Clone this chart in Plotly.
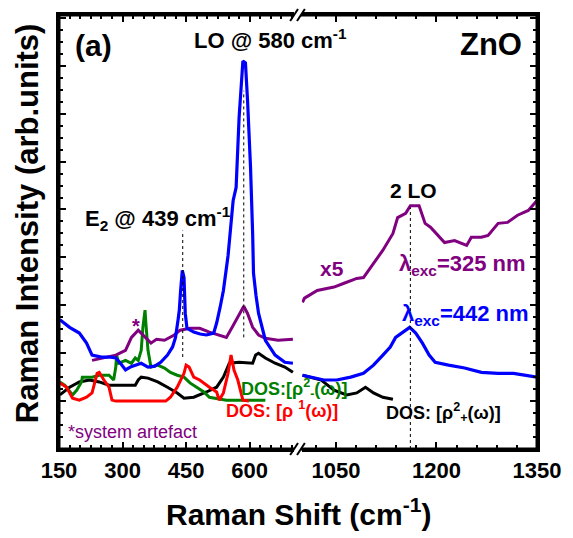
import plotly.graph_objects as go

# ---------------- data (left segment: 150-706 cm-1) ----------------
blue_l_x = [152, 175, 198, 215, 228, 250, 268, 284, 295, 307, 320, 330, 344, 360, 376, 390, 406, 418, 425, 431,
            434, 437, 441, 445, 448, 452, 468, 483, 498, 515, 522, 530, 538, 549, 561, 568, 575, 584, 590, 595,
            602, 607, 609, 615, 621, 637, 660, 683, 702]
blue_l_y = [2.70, 2.54, 2.42, 2.21, 1.96, 1.92, 1.92, 1.90, 1.79, 1.65, 1.72, 1.75, 1.79, 1.71, 1.73, 1.81, 1.96,
            2.13, 2.33, 2.70, 2.90, 3.31, 3.73, 3.58, 2.83, 2.52, 2.44, 2.40, 2.38, 2.42, 2.63, 2.95, 3.31, 4.04,
            5.19, 5.46, 6.92, 8.10, 8.06, 7.27, 5.88, 4.50, 3.67, 3.20, 2.83, 2.27, 1.96, 1.81, 1.79]

purple_l_x = [228, 252, 284, 307, 321, 337, 353, 367, 380, 399, 422, 436, 459, 482, 505, 528, 545, 561, 575,
              586, 595, 607, 621, 637, 667, 702]
purple_l_y = [1.85, 1.90, 1.96, 2.06, 2.33, 2.48, 2.33, 2.21, 2.29, 2.27, 2.38, 2.48, 2.52, 2.52, 2.44, 2.38,
              2.33, 2.58, 2.79, 2.98, 2.83, 2.54, 2.38, 2.31, 2.27, 2.29]

black_l_x = [152, 175, 198, 222, 245, 268, 291, 330, 337, 344, 360, 383, 406, 429, 445, 468, 498, 522, 538,
             552, 575, 607, 614, 621, 637, 660, 683, 702]
black_l_y = [1.13, 1.29, 1.40, 1.44, 1.40, 1.33, 1.33, 1.33, 1.44, 1.50, 1.48, 1.40, 1.29, 1.17, 1.06, 1.08,
             1.19, 1.29, 1.50, 1.79, 1.81, 1.79, 1.96, 2.00, 1.90, 1.79, 1.71, 1.60]

green_x = [152, 164, 182, 192, 203, 205, 228, 245, 268, 279, 284, 286, 291, 307, 321, 330, 337, 344, 348,
           353, 355, 360, 367, 383, 399, 413, 429, 445, 459, 475, 492, 505, 522, 545, 591, 637]
green_y = [1.40, 1.33, 1.13, 1.23, 1.40, 1.50, 1.50, 1.54, 1.54, 1.44, 1.71, 1.96, 1.79, 1.85, 1.79, 1.90,
           1.85, 2.06, 2.54, 2.90, 2.63, 2.06, 1.71, 1.75, 1.69, 1.60, 1.54, 1.50, 1.38, 1.29, 1.19, 1.08,
           1.06, 1.02, 1.02, 1.02]

red_x = [152, 168, 182, 198, 215, 228, 240, 245, 256, 268, 275, 284, 402, 413, 429, 445, 450, 457, 468, 482,
         505, 522, 528, 538, 549, 556, 563, 572, 584, 598]
red_y = [1.38, 1.29, 1.06, 1.02, 1.08, 1.17, 1.58, 1.60, 1.44, 1.29, 1.02, 1.00, 1.00, 1.08, 1.29, 1.58,
         1.75, 1.71, 1.50, 1.44, 1.29, 1.19, 1.02, 1.17, 1.58, 1.96, 1.65, 1.44, 1.02, 1.00]

# ---------------- data (right segment: 999-1350 cm-1) ----------------
blue_r_x = [1000, 1013, 1032, 1051, 1072, 1091, 1106, 1120, 1131, 1139, 1150, 1160, 1169, 1179, 1189, 1198,
            1218, 1242, 1267, 1292, 1315, 1335, 1350]
blue_r_y = [1.54, 1.50, 1.44, 1.44, 1.50, 1.58, 1.75, 1.96, 2.13, 2.33, 2.44, 2.54, 2.42, 2.21, 1.96, 1.81,
            1.75, 1.69, 1.60, 1.58, 1.58, 1.54, 1.50]

purple_r_x = [1000, 1003, 1022, 1047, 1062, 1081, 1091, 1106, 1120, 1135, 1142, 1154, 1161, 1174, 1183, 1191,
              1204, 1212, 1227, 1245, 1252, 1267, 1277, 1292, 1306, 1321, 1337, 1350]
purple_r_y = [3.06, 3.15, 3.31, 3.38, 3.46, 3.56, 3.58, 3.88, 4.15, 4.50, 4.83, 4.92, 5.08, 5.08, 4.71, 4.63,
              4.42, 4.31, 4.35, 4.25, 4.42, 4.42, 4.46, 4.71, 4.73, 4.88, 4.98, 5.19]

black_r_x = [1000, 1013, 1028, 1047, 1066, 1081, 1094, 1106, 1120, 1135]
black_r_y = [1.54, 1.50, 1.44, 1.23, 1.13, 1.17, 1.29, 1.17, 1.08, 1.04]

# reference (dotted) lines: [x, y_start, y_end]
e2_line = [442, 1.92, 4.56]
lo_line = [586, 2.33, 7.48]
lo2_line = [1161, 0.0, 5.04]

left_ticks = [150, 300, 450, 600]
right_ticks = [1050, 1200, 1350]

FONT = "Liberation Sans, Arial, sans-serif"
BLUE, PURPLE, GREEN, RED = "#0000FF", "#800080", "#008000", "#FF0000"

fig = go.Figure()

def add(x, y, color, width, right=False):
    fig.add_trace(go.Scatter(x=x, y=y, mode="lines", line=dict(color=color, width=width),
                             xaxis="x2" if right else "x", yaxis="y2" if right else "y",
                             showlegend=False, hoverinfo="skip"))

add(black_l_x, black_l_y, "black", 3)
add(green_x, green_y, GREEN, 3)
add(red_x, red_y, RED, 3)
add(purple_l_x, purple_l_y, PURPLE, 3)
add(blue_l_x, blue_l_y, BLUE, 3.2)
add(black_r_x, black_r_y, "black", 3, True)
add(purple_r_x, purple_r_y, PURPLE, 3, True)
add(blue_r_x, blue_r_y, BLUE, 3.2, True)

for ln, right in [(e2_line, False), (lo_line, False), (lo2_line, True)]:
    fig.add_trace(go.Scatter(x=[ln[0], ln[0]], y=[ln[1], ln[2]], mode="lines",
                             line=dict(color="black", width=1, dash="dot"),
                             xaxis="x2" if right else "x", yaxis="y2" if right else "y",
                             showlegend=False, hoverinfo="skip"))

L, T, B, R = 59, 14, 449, 547
W_, H_ = R - L, B - T

def px(x):
    return (x - L) / W_

def py(y):
    return (B - y) / H_

minor_t = dict(ticks="inside", ticklen=4, tickwidth=1.5, tickcolor="black")
x_common = dict(showline=True, linecolor="black", linewidth=3, ticks="inside", ticklen=7, tickwidth=2,
                tickcolor="black", mirror="ticks", showgrid=False, zeroline=False,
                tickfont=dict(family=FONT, size=22, color="black"))
y_common = dict(range=[0, 9.06], dtick=1, tick0=0, showticklabels=False, showline=True, linecolor="black",
                linewidth=3, ticks="inside", ticklen=7, tickwidth=2, tickcolor="black", showgrid=False,
                zeroline=False, minor=dict(dtick=0.25, **minor_t))

fig.update_layout(
    width=573, height=538,
    margin=dict(l=L, r=573 - R, t=T, b=538 - B),
    plot_bgcolor="white", paper_bgcolor="white",
    xaxis=dict(domain=[0, 0.492], range=[150, 705], tickvals=left_ticks,
               ticktext=["<b>%d</b>" % v for v in left_ticks],
               minor=dict(dtick=25, tick0=150, **minor_t), anchor="y", **x_common),
    xaxis2=dict(domain=[0.508, 1], range=[999, 1350], tickvals=right_ticks,
                ticktext=["<b>%d</b>" % v for v in right_ticks],
                minor=dict(dtick=30, tick0=1050, **minor_t), anchor="y2", **x_common),
    yaxis=dict(anchor="x", side="left", **y_common),
    yaxis2=dict(anchor="x2", side="right", **y_common),
)

# full frame as a paper rectangle, with the axis-break gap cleared
fig.add_shape(type="rect", xref="paper", yref="paper", x0=0, y0=0, x1=1, y1=1,
              line=dict(color="black", width=3), fillcolor="rgba(0,0,0,0)", layer="above")
for yy in (B, T):
    fig.add_shape(type="rect", xref="paper", yref="paper", x0=px(299), x1=px(306),
                  y0=py(yy + 3), y1=py(yy - 3), line=dict(width=0), fillcolor="white", layer="above")
    for xx in (299, 306):
        fig.add_shape(type="line", xref="paper", yref="paper",
                      x0=px(xx - 4), y0=py(yy + 6), x1=px(xx + 4), y1=py(yy - 6),
                      line=dict(color="black", width=2))

def ann(text, x, y, size, color="black", xanchor="left", bold=True, angle=0):
    if bold:
        text = "<b>" + text + "</b>"
    fig.add_annotation(text=text, x=px(x), y=py(y), xref="paper", yref="paper", showarrow=False,
                       xanchor=xanchor, yanchor="middle", textangle=angle,
                       font=dict(family=FONT, size=size, color=color))

ann("(a)", 73, 45, 30)
ann("LO @ 580 cm<sup>-1</sup>", 195, 38, 22)
ann("ZnO", 534, 44, 31, xanchor="right")
ann("E<sub>2</sub> @ 439 cm<sup>-1</sup>", 83, 218, 22)
ann("2 LO", 421, 190, 21, xanchor="center")
ann("x5", 323, 268, 21, PURPLE)
ann("λ<sub>exc</sub>=325 nm", 404, 265, 22, PURPLE)
ann("λ<sub>exc</sub>=442 nm", 407, 315, 22, BLUE)
ann("DOS: [ρ<sup>2</sup><sub>+</sub>(ω)]", 391, 412, 18)
ann("DOS:[ρ<sup>2</sup><sub>-</sub>(ω)]", 243, 388, 18, GREEN)
ann("DOS: [ρ <sup>1</sup>(ω)]", 227, 409, 18, RED)
ann("*system artefact", 66, 432, 18, PURPLE, bold=False)
ann("*", 138, 326, 20, PURPLE, xanchor="center")
ann("Raman Shift (cm<sup>-1</sup>)", 303, 512, 30, xanchor="center")
ann("Raman Intensity (arb.units)", 27, 223, 31, xanchor="center", angle=-90)

fig.write_html("out.html")
